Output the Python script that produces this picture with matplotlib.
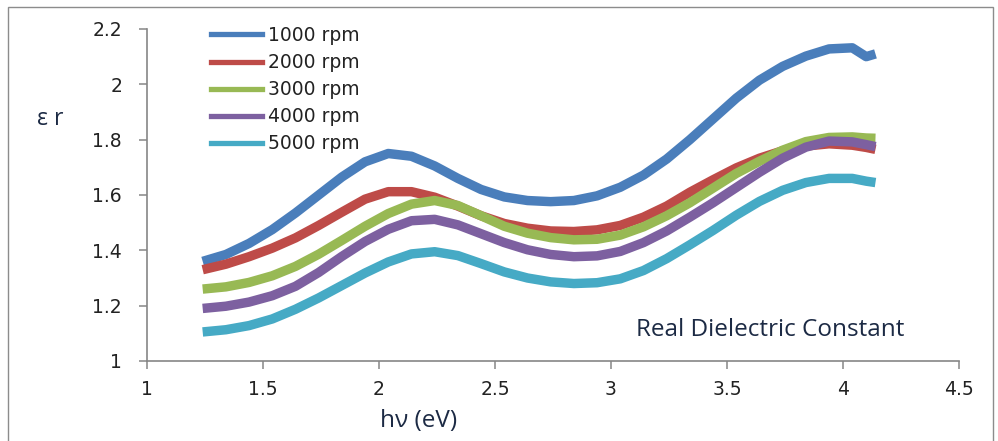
import matplotlib
matplotlib.use("Agg")
import matplotlib.pyplot as plt
from matplotlib.patches import Rectangle

# Photon energy (eV)
energy = [1.24, 1.34, 1.44, 1.54, 1.64, 1.74, 1.84, 1.94, 2.04, 2.14,
          2.24, 2.34, 2.44, 2.54, 2.64, 2.74, 2.84, 2.94, 3.04, 3.14,
          3.24, 3.34, 3.44, 3.54, 3.64, 3.74, 3.84, 3.94, 4.04, 4.10, 4.14]

# Real part of the dielectric constant for each spin speed
eps_1000 = [1.360, 1.385, 1.425, 1.475, 1.535, 1.600, 1.665, 1.720, 1.750, 1.740,
            1.705, 1.660, 1.620, 1.593, 1.580, 1.576, 1.580, 1.597, 1.628, 1.672,
            1.730, 1.800, 1.875, 1.950, 2.015, 2.065, 2.102, 2.128, 2.132, 2.100, 2.110]
eps_2000 = [1.330, 1.350, 1.377, 1.408, 1.445, 1.490, 1.538, 1.585, 1.612, 1.612,
            1.592, 1.560, 1.525, 1.497, 1.480, 1.470, 1.468, 1.474, 1.490, 1.520,
            1.560, 1.610, 1.655, 1.698, 1.733, 1.760, 1.777, 1.785, 1.780, 1.772, 1.765]
eps_3000 = [1.260, 1.268, 1.284, 1.308, 1.342, 1.386, 1.436, 1.487, 1.533, 1.567,
            1.580, 1.562, 1.525, 1.487, 1.462, 1.446, 1.438, 1.440, 1.455, 1.485,
            1.525, 1.572, 1.625, 1.678, 1.722, 1.762, 1.793, 1.808, 1.810, 1.806, 1.805]
eps_4000 = [1.190, 1.198, 1.213, 1.236, 1.270, 1.320, 1.378, 1.432, 1.476, 1.507,
            1.512, 1.492, 1.460, 1.428, 1.402, 1.385, 1.377, 1.380, 1.396, 1.428,
            1.470, 1.520, 1.572, 1.627, 1.682, 1.733, 1.773, 1.795, 1.792, 1.782, 1.775]
eps_5000 = [1.105, 1.113, 1.128, 1.152, 1.187, 1.228, 1.273, 1.318, 1.358, 1.387,
            1.395, 1.381, 1.352, 1.322, 1.300, 1.286, 1.280, 1.283, 1.297, 1.327,
            1.370, 1.420, 1.472, 1.527, 1.577, 1.617, 1.645, 1.660, 1.660, 1.650, 1.645]

series_labels = ["1000 rpm", "2000 rpm", "3000 rpm", "4000 rpm", "5000 rpm"]
series_values = [eps_1000, eps_2000, eps_3000, eps_4000, eps_5000]
series_colors = ["#4A7EBB", "#BE4B48", "#98B954", "#7D60A0", "#46AAC5"]

x_ticks = [1, 1.5, 2, 2.5, 3, 3.5, 4, 4.5]
x_tick_labels = ["1", "1.5", "2", "2.5", "3", "3.5", "4", "4.5"]
y_ticks = [1, 1.2, 1.4, 1.6, 1.8, 2, 2.2]
y_tick_labels = ["1", "1.2", "1.4", "1.6", "1.8", "2", "2.2"]

W, H = 998, 441
fig = plt.figure(figsize=(W / 100, H / 100), dpi=100)
fig.patch.set_facecolor("white")

# outer chart frame
fig.patches.append(Rectangle((8 / W, -0.05), (993 - 8) / W, 1 - 7 / H + 0.05,
                             transform=fig.transFigure, fill=False,
                             edgecolor="#8C8C8C", linewidth=1.0))

ax = fig.add_axes([147 / W, (H - 361) / H, (959 - 147) / W, (361 - 29) / H])
ax.set_facecolor("none")

lines = []
for vals, lab, col in zip(series_values, series_labels, series_colors):
    ax.plot(energy, vals, color=col, linewidth=6.8, solid_capstyle="butt",
            solid_joinstyle="round")
    lines.append(plt.Line2D([], [], color=col, linewidth=3.8))

ax.set_xlim(1, 4.5)
ax.set_ylim(1, 2.2)
ax.set_xticks(x_ticks)
ax.set_xticklabels(x_tick_labels)
ax.set_yticks(y_ticks)
ax.set_yticklabels(y_tick_labels)

for side in ("top", "right"):
    ax.spines[side].set_visible(False)
for side in ("left", "bottom"):
    ax.spines[side].set_color("#868686")
    ax.spines[side].set_linewidth(1.2)

ax.tick_params(axis="both", direction="out", length=6, width=1.1,
               color="#868686", labelcolor="#222222")
ax.tick_params(axis="y", pad=12)
ax.tick_params(axis="x", pad=8)
for lbl in ax.get_xticklabels() + ax.get_yticklabels():
    lbl.set_fontfamily("DejaVu Sans")
    lbl.set_fontsize(13.5)

text_color = "#1C2A44"
fig.text(50 / W, 1 - 119 / H, "ε r", ha="center", va="center",
         fontsize=16.5, family="Open Sans", color=text_color)
fig.text(419 / W, 1 - 421 / H, "hν (eV)", ha="center", va="center",
         fontsize=17.5, family="Open Sans", color=text_color)
fig.text(770 / W, 1 - 330 / H, "Real Dielectric Constant", ha="center",
         va="center", fontsize=17.5, family="Open Sans", color=text_color)

leg = ax.legend(lines, series_labels, loc="upper left",
                bbox_to_anchor=(211 / W, 1 - 26 / H),
                bbox_transform=fig.transFigure, frameon=False,
                handlelength=2.7, handletextpad=0.35, labelspacing=0.43,
                borderpad=0, borderaxespad=0,
                prop={"family": "DejaVu Sans", "size": 13.5})
for t in leg.get_texts():
    t.set_color("#222222")

fig.savefig("out.png", dpi=100)
